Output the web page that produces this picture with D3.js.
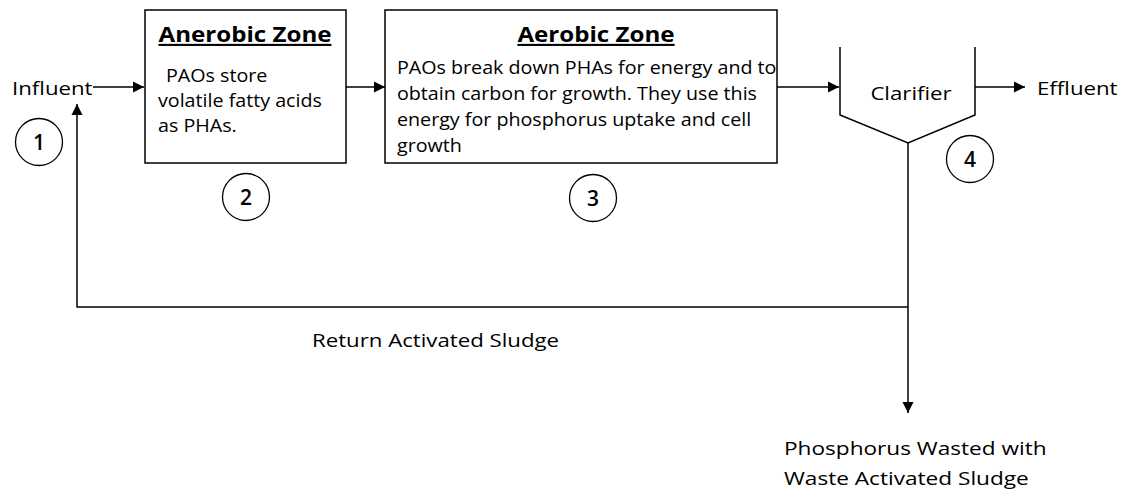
<!DOCTYPE html>
<html>
<head>
<meta charset="utf-8">
<script src="https://d3js.org/d3.v7.min.js"></script>
<style>
  body { margin: 0; background: #fff; }
  svg text { font-family: "Open Sans", sans-serif; fill: #000; }
</style>
</head>
<body>
<div id="diagram"></div>
<script>
// text content of the diagram
var zoneTitles = ["Anerobic Zone", "Aerobic Zone"];
var zoneLines = [
  ["PAOs store", "volatile fatty acids", "as PHAs."],
  ["PAOs break down PHAs for energy and to", "obtain carbon for growth. They use this",
   "energy for phosphorus uptake and cell", "growth"]
];
var stepNumbers = ["1", "2", "3", "4"];
var streamLabels = ["Influent", "Effluent", "Clarifier", "Return Activated Sludge"];
var wasteLines = ["Phosphorus Wasted with", "Waste Activated Sludge"];

// the original font is a bit wider than Open Sans, so stretch text sideways
function place(x, y, sx){
  return "translate(" + x + "," + y + ") scale(" + sx + ",1)";
}

function init(){
  var w = 1122, h = 490;

  var svg = d3.select("#diagram")
              .append("svg")
              .attr("width", w)
              .attr("height", h);

  svg.append("defs").append("marker")
     .attr("id", "head")
     .attr("viewBox", "0 0 10 10")
     .attr("refX", 10).attr("refY", 5)
     .attr("markerUnits", "userSpaceOnUse")
     .attr("markerWidth", 11).attr("markerHeight", 12)
     .attr("orient", "auto")
     .append("path")
     .attr("d", "M0,0 L10,5 L0,10 Z")
     .attr("fill", "#000");

  var line = d3.line();

  // zone boxes
  var boxes = [
    {x: 145, y: 10, w: 201, h: 153, tx: 245, body: 158, indent: 8, y0: 82, dy: 25},
    {x: 385, y: 10, w: 392, h: 153, tx: 596, body: 397, indent: 0, y0: 74, dy: 26}
  ];

  var g = svg.selectAll("g.zone")
             .data(boxes)
             .enter()
             .append("g")
             .attr("class", "zone");

  g.append("rect")
   .attr("x", function(d){ return d.x; })
   .attr("y", function(d){ return d.y; })
   .attr("width", function(d){ return d.w; })
   .attr("height", function(d){ return d.h; })
   .attr("fill", "none")
   .attr("stroke", "#000")
   .attr("stroke-width", 1.5);

  g.append("text")
   .attr("transform", function(d){ return place(d.tx, 42, 1.15); })
   .attr("text-anchor", "middle")
   .style("font-size", "21px")
   .style("font-weight", "bold")
   .style("text-decoration", "underline")
   .text(function(d, i){ return zoneTitles[i]; });

  g.each(function(d, i){
    d3.select(this).selectAll("text.body")
      .data(zoneLines[i])
      .enter()
      .append("text")
      .attr("class", "body")
      .attr("transform", function(t, j){
        return place(d.body + (j === 0 ? d.indent : 0), d.y0 + j * d.dy, 1.036);
      })
      .style("font-size", "19px")
      .text(function(t){ return t; });
  });

  // clarifier outline
  svg.append("path")
     .attr("d", line([[840, 47], [840, 115], [908, 143], [975, 115], [975, 47]]))
     .attr("fill", "none")
     .attr("stroke", "#000")
     .attr("stroke-width", 1.5);

  // flow lines with arrowheads
  var flows = [
    [[93, 87], [144, 87]],
    [[346, 87], [385, 87]],
    [[777, 87], [839, 87]],
    [[975, 87], [1025, 87]],
    [[908, 143], [908, 413]],
    [[908, 307], [77, 307], [77, 104]]
  ];

  svg.selectAll("path.flow")
     .data(flows)
     .enter()
     .append("path")
     .attr("class", "flow")
     .attr("d", line)
     .attr("fill", "none")
     .attr("stroke", "#000")
     .attr("stroke-width", 1.5)
     .attr("marker-end", "url(#head)");

  // numbered circles
  var circles = [[39, 142], [246, 197], [593, 198], [970, 159]];

  var c = svg.selectAll("g.step")
             .data(circles)
             .enter()
             .append("g")
             .attr("class", "step")
             .attr("transform", function(d){ return "translate(" + d[0] + "," + d[1] + ")"; });

  c.append("circle")
   .attr("r", 23.5)
   .attr("fill", "none")
   .attr("stroke", "#000")
   .attr("stroke-width", 1.3);

  c.append("text")
   .attr("y", 8)
   .attr("text-anchor", "middle")
   .style("font-size", "21px")
   .style("font-weight", "600")
   .text(function(d, i){ return stepNumbers[i]; });

  // stream labels
  var labelPos = [[12, 95, "start"], [1037, 95, "start"], [911, 100, "middle"], [312, 347, "start"]];

  svg.selectAll("text.label")
     .data(labelPos)
     .enter()
     .append("text")
     .attr("class", "label")
     .attr("transform", function(d){ return place(d[0], d[1], 1.17); })
     .attr("text-anchor", function(d){ return d[2]; })
     .style("font-size", "19px")
     .text(function(d, i){ return streamLabels[i]; });

  svg.selectAll("text.waste")
     .data(wasteLines)
     .enter()
     .append("text")
     .attr("class", "waste")
     .attr("transform", function(d, i){ return place(784, 455 + i * 30, 1.19); })
     .style("font-size", "19px")
     .text(function(d){ return d; });
}

window.onload = init;
</script>
</body>
</html>
